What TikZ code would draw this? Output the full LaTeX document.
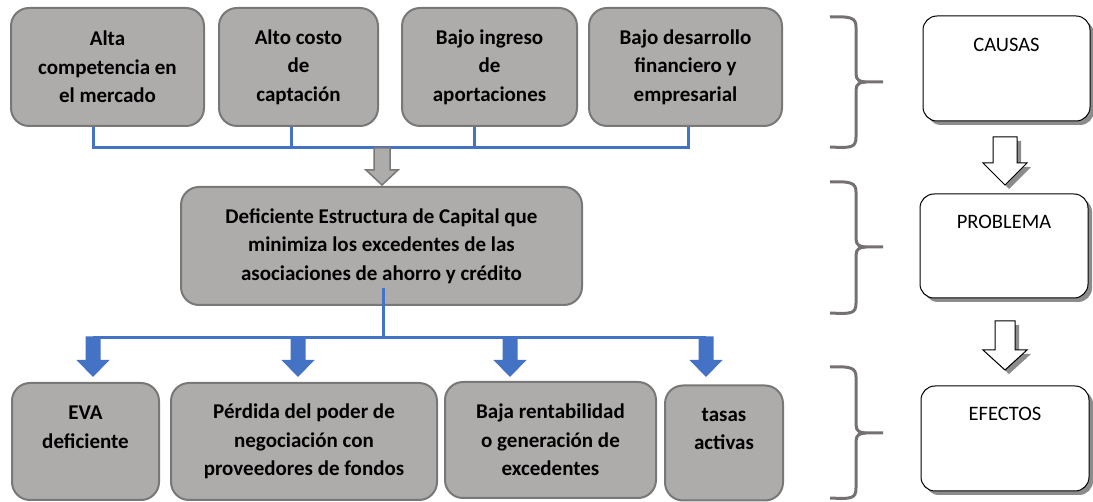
\documentclass[tikz,border=0pt]{standalone}
\usepackage{fontspec}
\setmainfont{Carlito}
\usetikzlibrary{calc,shadows}
\definecolor{boxgray}{HTML}{AEABAB}
\definecolor{boxline}{HTML}{787878}
\definecolor{linkblue}{HTML}{4472C4}
\definecolor{bracegray}{HTML}{767171}
\newcommand\blockarr[6]{%
  \path[#6] let \p1=(#1), \p2=(#2) in
    (\x1-#3,\y1) -- (\x1+#3,\y1) -- (\x1+#3,\y2+#5) -- (\x1+#4,\y2+#5) --
    (\x1,\y2) -- (\x1-#4,\y2+#5) -- (\x1-#3,\y2+#5) -- cycle;}
\newcommand\bracedraw[3]{%
  \draw[bracestyle] (830,#1) .. controls (851,#1-1) and (856,#1+1) .. (856,#1+10)
     -- (856,#2-8) .. controls (856,#2-2) and (860,#2) .. (866,#2) -- (883,#2);
  \draw[bracestyle] (866,#2) .. controls (860,#2) and (856,#2+2) .. (856,#2+8)
     -- (856,#3-10) .. controls (856,#3+1) and (851,#3+1) .. (830,#3);}
\begin{document}
\begin{tikzpicture}[x=1pt,y=-1pt,
  causebox/.style={draw=boxline, line width=2pt, fill=boxgray, rounded corners=18pt,
    inner sep=0pt, align=center, font=\fontsize{21}{28.5}\selectfont\bfseries},
  labbox/.style={draw=black, line width=1pt, fill=white, rounded corners=14pt,
    inner sep=0pt, drop shadow={shadow xshift=4pt, shadow yshift=-4pt, fill=black!45, opacity=1}},
  labtext/.style={font=\fontsize{20.5}{24}\selectfont, inner sep=0pt},
  bluelink/.style={draw=linkblue, line width=3pt},
  bluearrow/.style={fill=linkblue},
  grayarrow/.style={draw=boxline, fill=boxgray, line width=1.5pt, line join=miter},
  hollowarrow/.style={draw=black, fill=white, line width=1pt},
  hollowshadow/.style={fill=black!45},
  bracestyle/.style={draw=bracegray, line width=3pt}]
\useasboundingbox (0,0) rectangle (1093,502);

% causes
\node[causebox, minimum width=193pt, minimum height=118pt] (A) at (107.5,67) {Alta\\competencia en\\el mercado};
\node[causebox, minimum width=159pt, minimum height=118pt] (B) at (298.5,67) {Alto costo\\de\\captación};
\node[causebox, minimum width=175pt, minimum height=118pt] (C) at (489.5,67) {Bajo ingreso\\de\\aportaciones};
\node[causebox, minimum width=193pt, minimum height=118pt] (D) at (685.5,67) {Bajo desarrollo\\financiero y\\empresarial};

% problem
\node[causebox, minimum width=401pt, minimum height=118pt] (M) at (381.5,246) {Deficiente Estructura de Capital que\\minimiza los excedentes de las\\asociaciones de ahorro y crédito};

% effects
\node[causebox, minimum width=147pt, minimum height=117pt] (E1) at (85.5,441.5) {EVA\\deficiente\\~};
\node[causebox, minimum width=266pt, minimum height=117pt] (E2) at (304,441.5) {Pérdida del poder de\\negociación con\\proveedores de fondos};
\node[causebox, minimum width=211pt, minimum height=116pt] (E3) at (550.5,440) {Baja rentabilidad\\o generación de\\excedentes};
\node[causebox, minimum width=118pt, minimum height=115pt] (E4) at (724,443) {tasas\\activas\\~};

% top connector
\coordinate (bA) at (93,148);
\coordinate (bB) at (291,148);
\coordinate (bC) at (474,148);
\coordinate (bD) at (688,148);
\draw[bluelink] (bA |- A.south) -- (bA) -- (bD) -- (bD |- D.south);
\draw[bluelink] (bB |- B.south) -- (bB);
\draw[bluelink] (bC |- C.south) -- (bC);

% gray arrow to problem
\coordinate (gTop) at (382,148);
\coordinate (gTip) at (382,185);
\blockarr{gTop}{gTip}{8pt}{16pt}{15pt}{grayarrow}

% bottom connector
\coordinate (mStart) at (383,288);
\coordinate (mBus) at (383,338);
\coordinate (e1) at (93,338);
\coordinate (e2) at (298,338);
\coordinate (e3) at (510,338);
\coordinate (e4) at (706,338);
\draw[bluelink] (mStart) -- (mBus);
\draw[bluelink] (e1) -- (e4);
\coordinate (s1) at (93,336.5);
\coordinate (s2) at (298,336.5);
\coordinate (s3) at (510,336.5);
\coordinate (s4) at (706,336.5);
\coordinate (t1) at (93,377);
\coordinate (t2) at (298,377);
\coordinate (t3) at (510,377);
\coordinate (t4) at (706,377);
\blockarr{s1}{t1}{7.5pt}{16.5pt}{17pt}{bluearrow}
\blockarr{s2}{t2}{7.5pt}{16.5pt}{17pt}{bluearrow}
\blockarr{s3}{t3}{7.5pt}{16.5pt}{17pt}{bluearrow}
\blockarr{s4}{t4}{7.5pt}{16.5pt}{17pt}{bluearrow}

% braces
\bracedraw{17}{82}{147}
\bracedraw{182}{247}{313}
\bracedraw{367}{433}{498}

% legend boxes
\node[labbox, minimum width=167pt, minimum height=105pt] (causas) at (1006.5,68.5) {};
\node[labtext] (causasT) at ($(causas.north)+(0,29)$) {CAUSAS};
\node[labbox, minimum width=168pt, minimum height=104pt] (problema) at (1004,246) {};
\node[labtext] (problemaT) at ($(problema.north)+(0,28)$) {PROBLEMA};
\node[labbox, minimum width=168pt, minimum height=105pt] (efectos) at (1005,438.5) {};
\node[labtext] (efectosT) at ($(efectos.north)+(0,28)$) {EFECTOS};

% hollow arrows
\coordinate (h1a) at (1005,137);
\coordinate (h1b) at (1005,185);
\coordinate (h1as) at (1009,141);
\coordinate (h1bs) at (1009,189);
\blockarr{h1as}{h1bs}{12pt}{22pt}{22pt}{hollowshadow}
\blockarr{h1a}{h1b}{12pt}{22pt}{22pt}{hollowarrow}
\coordinate (h2a) at (1005,321);
\coordinate (h2b) at (1005,370);
\coordinate (h2as) at (1009,325);
\coordinate (h2bs) at (1009,374);
\blockarr{h2as}{h2bs}{10pt}{22pt}{20pt}{hollowshadow}
\blockarr{h2a}{h2b}{10pt}{22pt}{20pt}{hollowarrow}
\end{tikzpicture}
\end{document}
